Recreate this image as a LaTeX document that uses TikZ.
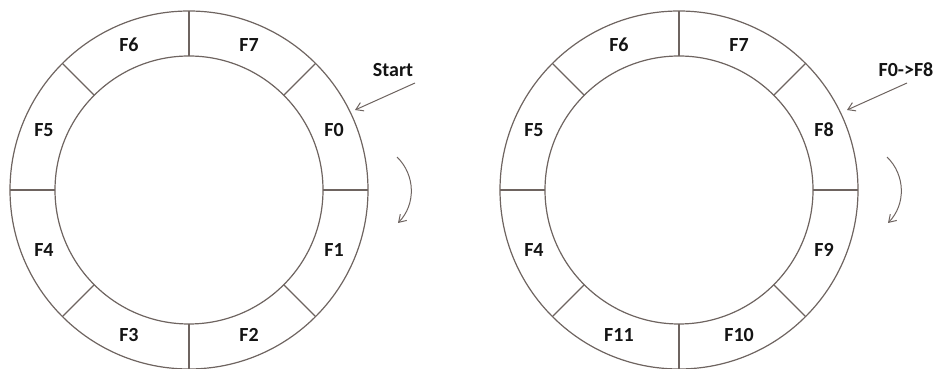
\documentclass[tikz,border=0pt]{standalone}
\usepackage{fontspec}
\setmainfont{Carlito}
\usetikzlibrary{arrows.meta,calc}
\definecolor{ringcol}{HTML}{6E6460}
\definecolor{txtcol}{HTML}{141414}
\tikzset{
  ringline/.style={draw=ringcol, line width=1.2pt},
  lbl/.style={font=\fontsize{20}{22}\selectfont\bfseries, text=txtcol, inner sep=0pt},
  pointer/.style={draw=ringcol, line width=1pt, -{Straight Barb[length=7pt,width=9pt]}},
}
\begin{document}
\begin{tikzpicture}[x=1pt,y=1pt]
\useasboundingbox (0,0) rectangle (944,369);
% left ring
\coordinate (cl) at (189,179);
\draw[ringline] (cl) circle (179);
\draw[ringline] (cl) circle (134);
\foreach \a in {0,45,...,315}{
  \draw[ringline] ($(cl)+(\a:134)$) -- ($(cl)+(\a:179)$);
}
\node[lbl] (l0) at ($(cl)+(22.5:157)$) {F0};
\node[lbl] (l7) at ($(cl)+(67.5:157)$) {F7};
\node[lbl] (l6) at ($(cl)+(112.5:157)$) {F6};
\node[lbl] (l5) at ($(cl)+(157.5:157)$) {F5};
\node[lbl] (l4) at ($(cl)+(202.5:157)$) {F4};
\node[lbl] (l3) at ($(cl)+(247.5:157)$) {F3};
\node[lbl] (l2) at ($(cl)+(292.5:157)$) {F2};
\node[lbl] (l1) at ($(cl)+(337.5:157)$) {F1};
\node[lbl] (start) at (393,299) {Start};
\coordinate (sa) at (415,286);
\coordinate (sb) at (355,259);
\draw[pointer] (sa) -- (sb);
\coordinate (ca) at (397,212);
\coordinate (cb) at (398,146);
\draw[pointer] (ca) to[bend left=45] (cb);
% right ring
\coordinate (cr) at (679,179);
\draw[ringline] (cr) circle (179);
\draw[ringline] (cr) circle (134);
\foreach \a in {0,45,...,315}{
  \draw[ringline] ($(cr)+(\a:134)$) -- ($(cr)+(\a:179)$);
}
\node[lbl] (r8) at ($(cr)+(22.5:157)$) {F8};
\node[lbl] (r7) at ($(cr)+(67.5:157)$) {F7};
\node[lbl] (r6) at ($(cr)+(112.5:157)$) {F6};
\node[lbl] (r5) at ($(cr)+(157.5:157)$) {F5};
\node[lbl] (r4) at ($(cr)+(202.5:157)$) {F4};
\node[lbl] (r11) at ($(cr)+(247.5:157)$) {F11};
\node[lbl] (r10) at ($(cr)+(292.5:157)$) {F10};
\node[lbl] (r9) at ($(cr)+(337.5:157)$) {F9};
\node[lbl] (swap) at (906,299) {F0->F8};
\coordinate (ta) at (907,286);
\coordinate (tb) at (847,259);
\draw[pointer] (ta) -- (tb);
\coordinate (da) at (887,212);
\coordinate (db) at (888,146);
\draw[pointer] (da) to[bend left=45] (db);
\end{tikzpicture}
\end{document}
